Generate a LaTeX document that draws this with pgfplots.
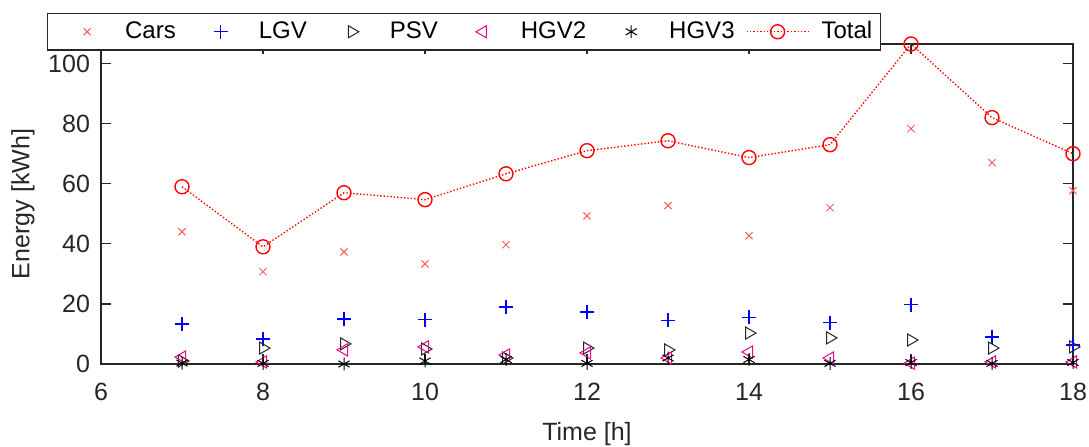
\documentclass[border=0pt]{standalone}
\usepackage{fontspec}
\setmainfont{Liberation Sans}
\usepackage{pgfplots}
\pgfplotsset{compat=1.18}
\definecolor{axgray}{rgb}{0.15,0.15,0.15}
\definecolor{carred}{rgb}{1,0.35,0.35}
\pgfplotsset{
    markleg/.style={legend image code/.code={
        \path[draw=none, fill=none] (-18pt,0pt) -- (17pt,0pt);
        \draw[##1] plot coordinates {(0pt,0pt)};}},
    totleg/.style={legend image code/.code={
        \path[draw=none, fill=none] (-1.5pt,0pt) -- (35.5pt,0pt);
        \draw[mark repeat=2, mark phase=2, ##1] plot coordinates {(0pt,0pt) (15.5pt,0pt) (31pt,0pt)};}},
}
\begin{document}
\begin{tikzpicture}
\begin{axis}[
    name=ax,
    scale only axis,
    width=486pt, height=160pt,
    xmin=6, xmax=18, ymin=0, ymax=106.5,
    xtick={6,8,...,18}, ytick={0,20,...,100},
    tick align=inside, major tick length=5pt,
    axis line style={axgray, line width=0.6pt},
    tick style={axgray, line width=0.6pt},
    ticklabel style={font=\fontsize{12.5}{14}\selectfont, text=axgray},
    xticklabel style={yshift=-6pt},
    yticklabel style={xshift=-2pt},
    label style={font=\fontsize{12.5}{14}\selectfont, text=axgray},
    xlabel={Time [h]}, ylabel={Energy [kWh]},
    xlabel style={yshift=-4pt},
    clip=false,
    /pgf/number format/assume math mode=true,
    legend columns=6,
    legend style={at={(-0.056,1.097)}, anchor=north west, draw=axgray,
        line width=0.6pt, font=\fontsize{12}{14}\selectfont,
        inner xsep=2pt, inner ysep=2pt,
        /tikz/every even column/.append style={column sep=2.5pt}},
]
\addplot[only marks, mark=x, mark size=2.5pt, color=carred, mark options={draw=carred}, line width=0.5pt, markleg] coordinates {
(7,44) (8,30.7) (9,37.3) (10,33.3) (11,39.7) (12,49.3) (13,52.7) (14,42.7) (15,52) (16,78.3) (17,67) (18,57.7)};
\addplot[only marks, mark=+, mark size=3.5pt, color=blue, mark options={draw=blue}, line width=0.6pt, markleg] coordinates {
(7,13.3) (8,8.3) (9,15) (10,14.7) (11,19) (12,17.3) (13,14.5) (14,15.5) (15,13.8) (16,19.7) (17,9) (18,6.3)};
\addplot[only marks, mark=triangle, mark size=3.5pt, color=axgray, mark options={rotate=-90, draw=axgray}, line width=0.5pt, markleg] coordinates {
(7,1) (8,5.3) (9,6.7) (10,5) (11,2) (12,5.3) (13,4.7) (14,10.3) (15,8.7) (16,8) (17,5.3) (18,5.7)};
\addplot[only marks, mark=triangle, mark size=3.5pt, color=magenta, mark options={rotate=90, draw=magenta}, line width=0.5pt, markleg] coordinates {
(7,2.3) (8,0.7) (9,4.7) (10,5.7) (11,3) (12,3.7) (13,2) (14,4) (15,2) (16,0.3) (17,0.7) (18,0.7)};
\addplot[only marks, mark=asterisk, mark size=3.2pt, color=black, line width=0.5pt, markleg] coordinates {
(7,0.3) (8,0.2) (9,0) (10,1) (11,1.5) (12,0.2) (13,2) (14,1.5) (15,0.2) (16,0.5) (17,0.2) (18,0.5)};
\addplot[red, densely dotted, line width=0.7pt, mark=o, mark size=3.5pt, mark options={solid}, totleg] coordinates {
(7,59) (8,39) (9,57) (10,54.7) (11,63.3) (12,71) (13,74.3) (14,68.7) (15,73) (16,106.5) (17,82) (18,70)};
\legend{Cars, LGV, PSV, HGV2, HGV3, Total}
\end{axis}
\pgfresetboundingbox
\path[use as bounding box] ([xshift=-50.5pt,yshift=-41pt]ax.south west) rectangle ([xshift=8pt,yshift=22pt]ax.north east);
\end{tikzpicture}
\end{document}
